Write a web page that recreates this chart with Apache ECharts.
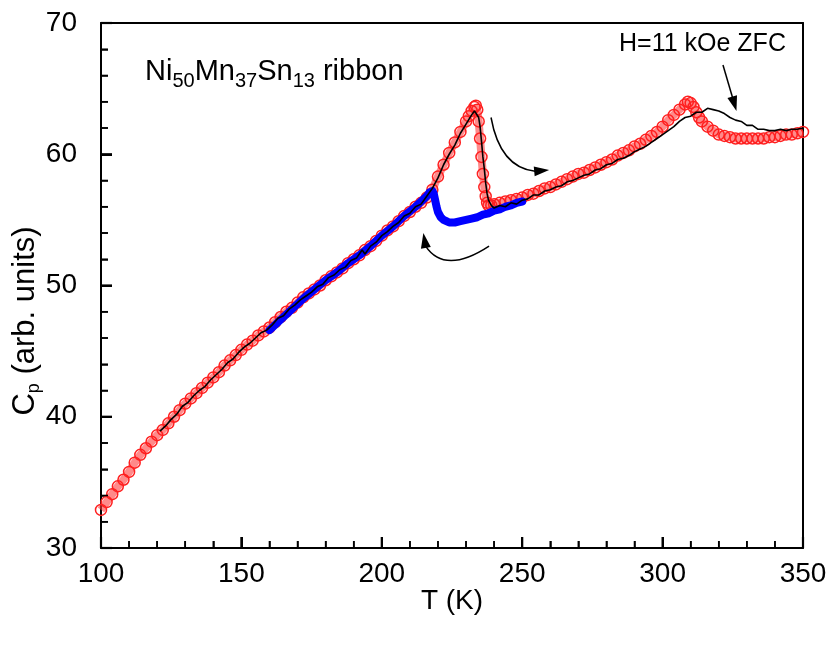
<!DOCTYPE html>
<html>
<head>
<meta charset="utf-8">
<script src="https://cdn.jsdelivr.net/npm/echarts@6/dist/echarts.min.js"></script>
<style>
html,body{margin:0;padding:0;background:#fff;}
#chart{width:832px;height:645px;}
</style>
</head>
<body>
<div id="chart"></div>
<script>
// Red open circles (heating)
var redT = [100,102,104,106,108,110,112,114,116,118,120,122,124,126,128,130,132,134,136,138,140,142,144,146,148,150,152,154,156,158,160,162,164,166,168,170,172,174,176,178,180,182,184,186,188,190,192,194,196,198,200,202,204,206,208,210,212,214,216,218,220,222,224,226,228,230,231,232,233,233.5,234,234.5,235,235.5,236,236.5,237,237.5,238,239,240,242,244,246,248,250,252,254,256,258,260,262,264,266,268,270,272,274,276,278,280,282,284,286,288,290,292,294,296,298,300,302,304,306,308,309,310,311,312,313,314,316,318,320,322,324,326,328,330,332,334,336,338,340,342,344,346,348,350];
var redC = [32.9,33.5,34.1,34.7,35.2,35.8,36.5,37.1,37.6,38.1,38.6,39.0,39.5,40.0,40.5,41.0,41.4,41.8,42.2,42.6,43.0,43.4,43.9,44.3,44.7,45.1,45.5,45.8,46.2,46.5,46.8,47.2,47.6,48.0,48.3,48.7,49.1,49.4,49.7,50.0,50.4,50.7,51.0,51.3,51.7,52.0,52.3,52.7,53.0,53.4,53.8,54.2,54.5,54.9,55.3,55.6,56.0,56.3,56.7,57.3,58.3,59.2,60.1,60.9,61.7,62.5,62.9,63.3,63.6,63.7,63.4,62.5,61.2,59.8,58.5,57.5,56.8,56.3,56.1,56.1,56.2,56.3,56.4,56.5,56.6,56.7,56.9,57.0,57.2,57.4,57.5,57.7,57.9,58.1,58.3,58.5,58.6,58.8,59.0,59.2,59.4,59.6,59.9,60.1,60.3,60.6,60.8,61.1,61.4,61.7,62.1,62.6,63.0,63.4,63.8,64.0,63.9,63.6,63.2,62.8,62.5,62.1,61.8,61.5,61.4,61.3,61.2,61.2,61.2,61.2,61.2,61.2,61.3,61.3,61.4,61.5,61.5,61.6,61.7];

// Blue (cooling)
var blueT = [160,164,168,172,176,180,184,188,192,196,200,204,208,212,214,216,217,218,218.5,219,219.5,220,221,222,223,224,225,226,228,230,232,234,236,238,240,242,244,246,248,250];
var blueC = [46.6,47.4,48.2,49.0,49.7,50.4,51.0,51.7,52.3,53.0,53.8,54.5,55.3,56.0,56.4,56.8,57.1,57.2,57.0,56.5,56.0,55.6,55.2,55.0,54.9,54.8,54.8,54.8,54.9,55.0,55.1,55.2,55.4,55.5,55.7,55.8,56.0,56.1,56.3,56.4];

// Black line (H=11 kOe ZFC)
var blackT = [121,123,125,127,129,131,133,135,137,139,141,143,145,147,149,151,153,155,157,159,161,163,165,167,169,171,173,175,177,179,181,183,185,187,189,191,193,194,196,198,200,202,204,206,208,210,212,214,216,218,220,222,224,226,228,230,232,233,233.5,234.5,235,235.5,236,236.5,237,237.5,238,239,240,242,244,246,248,250,252,254,256,258,260,262,264,266,268,270,272,274,276,278,280,282,284,286,288,290,292,294,296,298,300,302,304,306,308,310,312,314,316,318,320,322,324,326,328,330,332,334,336,338,340,342,344,346,348,350];
var blackC = [38.9,39.3,39.8,40.2,40.8,41.1,41.6,42.0,42.3,42.8,43.2,43.6,44.1,44.4,44.9,45.3,45.6,46.0,46.4,46.6,47.0,47.5,47.7,48.2,48.5,48.9,49.2,49.5,49.9,50.1,50.6,50.8,51.2,51.4,51.9,52.1,52.7,52.4,53.0,53.3,53.8,54.1,54.5,54.8,55.3,55.5,56.0,56.2,56.8,57.4,58.2,59.2,60.0,60.7,61.6,62.3,63.0,63.3,63.3,62.8,62.1,61.0,59.8,58.9,57.8,57.0,56.5,56.1,55.9,56.1,56.0,56.3,56.2,56.5,56.6,56.9,56.9,57.2,57.3,57.5,57.6,57.9,58.0,58.2,58.4,58.5,58.8,58.9,59.2,59.3,59.6,59.7,59.9,60.2,60.4,60.6,60.9,61.2,61.5,61.8,62.1,62.5,62.8,62.9,63.2,63.2,63.5,63.4,63.3,63.1,62.8,62.6,62.5,62.2,62.2,61.9,61.9,61.8,61.8,61.9,61.8,61.9,61.9,62.0];

var xTicks = [100,150,200,250,300,350];
var yTicks = [30,40,50,60,70];
var xMinorStep = 10, yMinorStep = 2;

function zip(a,b){var r=[];for(var i=0;i<a.length;i++)r.push([a[i],b[i]]);return r;}
function isMajor(v, arr){for(var i=0;i<arr.length;i++){if(Math.abs(arr[i]-v)<1e-6)return true;}return false;}

var FONT = "'Liberation Sans', Arial, sans-serif";
var xMin = xTicks[0], xMax = xTicks[xTicks.length-1];
var yMin = yTicks[0], yMax = yTicks[yTicks.length-1];

var tickData = [];
for (var i = 0; xMin + i*xMinorStep <= xMax + 1e-6; i++) { var tv = xMin + i*xMinorStep; tickData.push([0, tv, isMajor(tv,xTicks)?1:0]); }
for (var j = 0; yMin + j*yMinorStep <= yMax + 1e-6; j++) { var tw = yMin + j*yMinorStep; tickData.push([1, tw, isMajor(tw,yTicks)?1:0]); }

var chart = echarts.init(document.getElementById('chart'), null, {renderer:'canvas'});

var option = {
  backgroundColor:'#fff',
  animation:false,
  grid:{left:101,top:23,width:702,height:525,show:false,containLabel:false},
  xAxis:[{
    type:'value', min:xMin, max:xMax, interval:50, position:'bottom',
    axisLine:{show:true,onZero:false,lineStyle:{color:'#000',width:2}},
    axisTick:{show:true,inside:true,length:11,lineStyle:{color:'#000',width:2}},
    minorTick:{show:true,splitNumber:5,length:7,lineStyle:{color:'#000',width:1.5}},
    splitLine:{show:false},
    axisLabel:{color:'#000',fontSize:28,fontFamily:FONT,margin:12,showMinLabel:true,showMaxLabel:true}
  },{
    type:'value', min:xMin, max:xMax, position:'top',
    axisLine:{show:true,onZero:false,lineStyle:{color:'#000',width:2}},
    axisTick:{show:false},axisLabel:{show:false},splitLine:{show:false}
  }],
  yAxis:[{
    type:'value', min:yMin, max:yMax, interval:10, position:'left',
    axisLine:{show:true,onZero:false,lineStyle:{color:'#000',width:2}},
    axisTick:{show:true,inside:true,length:11,lineStyle:{color:'#000',width:2}},
    minorTick:{show:true,splitNumber:5,length:7,lineStyle:{color:'#000',width:1.5}},
    splitLine:{show:false},
    axisLabel:{color:'#000',fontSize:28,fontFamily:FONT,margin:24,showMinLabel:true,showMaxLabel:true}
  },{
    type:'value', min:yMin, max:yMax, position:'right',
    axisLine:{show:true,onZero:false,lineStyle:{color:'#000',width:2}},
    axisTick:{show:false},axisLabel:{show:false},splitLine:{show:false}
  }],
  series:[
    {
      type:'line',name:'red',data:zip(redT,redC),
      symbol:'circle',symbolSize:11,showSymbol:true,showAllSymbol:true,
      itemStyle:{color:'rgba(255,255,255,0)',borderColor:'#ff2020',borderWidth:1.5},
      lineStyle:{color:'rgba(255,60,60,0.6)',width:8},
      z:2
    },
    {
      type:'line',name:'blue',data:zip(blueT,blueC),
      symbol:'none',
      lineStyle:{color:'#0000ff',width:8,cap:'round',join:'round'},
      z:3
    },
    {
      type:'line',name:'black',data:zip(blackT,blackC),
      symbol:'none',
      lineStyle:{color:'#000',width:1.6},
      z:4
    },
    {
      type:'custom',name:'ticks',data:tickData,clip:false,silent:true,z:30,
      renderItem:function(params, api){
        var ax = api.value(0), val = api.value(1), maj = api.value(2) === 1;
        var L = maj ? 11 : 7, W = maj ? 2.2 : 1.6;
        if (ax === 0) {
          var p = api.coord([val, yMin]);
          return {type:'rect',shape:{x:p[0]-W/2,y:p[1]-L,width:W,height:L},style:{fill:'#000'}};
        } else {
          var q = api.coord([xMin, val]);
          return {type:'rect',shape:{x:q[0],y:q[1]-W/2,width:L,height:W},style:{fill:'#000'}};
        }
      }
    }
  ]
};
chart.setOption(option);

function P(t,c){return chart.convertToPixel({xAxisIndex:0,yAxisIndex:0},[t,c]);}
function arrowHead(tip, dx, dy, len, half){
  var n = Math.sqrt(dx*dx+dy*dy); dx/=n; dy/=n;
  var bx = tip[0]-dx*len, by = tip[1]-dy*len;
  return [[tip[0],tip[1]],[bx-dy*half,by+dx*half],[bx+dy*half,by-dx*half]];
}

var a1s = P(238.9,62.8), a1c = P(242.1,59.0), a1e = P(254.6,58.7), a1t = P(259.6,58.8);
var a2s = P(238.2,53.0), a2c = P(222.5,50.8), a2e = P(215.6,53.0), a2t = P(214.8,54.0);
var a3s = P(321.5,66.8), a3e = P(325.9,63.6), a3t = P(326.3,63.3);

var g = [
  {type:'bezierCurve',shape:{x1:a1s[0],y1:a1s[1],cpx1:a1c[0],cpy1:a1c[1],x2:a1e[0],y2:a1e[1]},style:{stroke:'#000',lineWidth:1.5,fill:null},z:10},
  {type:'polygon',shape:{points:arrowHead(a1t,a1t[0]-a1e[0],a1t[1]-a1e[1],15,5)},style:{fill:'#000'},z:10},
  {type:'bezierCurve',shape:{x1:a2s[0],y1:a2s[1],cpx1:a2c[0],cpy1:a2c[1],x2:a2e[0],y2:a2e[1]},style:{stroke:'#000',lineWidth:1.5,fill:null},z:10},
  {type:'polygon',shape:{points:arrowHead(a2t,a2t[0]-a2e[0],a2t[1]-a2e[1],15,5)},style:{fill:'#000'},z:10},
  {type:'line',shape:{x1:a3s[0],y1:a3s[1],x2:a3e[0],y2:a3e[1]},style:{stroke:'#000',lineWidth:1.5},z:10},
  {type:'polygon',shape:{points:arrowHead(a3t,a3t[0]-a3s[0],a3t[1]-a3s[1],15,5)},style:{fill:'#000'},z:10},
  {type:'text',x:619,y:44,style:{text:'H=11 kOe ZFC',font:'25px '+FONT,fill:'#000',textAlign:'left',textVerticalAlign:'middle'},z:10},
  {type:'text',x:145,y:72,style:{
    text:'{a|Ni}{s|50}{a|Mn}{s|37}{a|Sn}{s|13}{a| ribbon}',
    fill:'#000',textAlign:'left',textVerticalAlign:'middle',
    rich:{a:{fontSize:29,fontFamily:FONT,color:'#000',lineHeight:32},s:{fontSize:20,fontFamily:FONT,color:'#000',padding:[18,0,0,0]}}
  },z:10},
  {type:'text',x:452,y:601,style:{text:'T (K)',font:'28px '+FONT,fill:'#000',textAlign:'center',textVerticalAlign:'middle'},z:10},
  {type:'text',x:25,y:321,rotation:Math.PI/2,style:{
    text:'{a|C}{s|p}{a| (arb. units)}',
    fill:'#000',textAlign:'center',textVerticalAlign:'middle',
    rich:{a:{fontSize:31,fontFamily:FONT,color:'#000',lineHeight:34},s:{fontSize:18,fontFamily:FONT,color:'#000',padding:[18,0,0,0]}}
  },z:10}
];

chart.setOption({graphic:g});
</script>
</body>
</html>
